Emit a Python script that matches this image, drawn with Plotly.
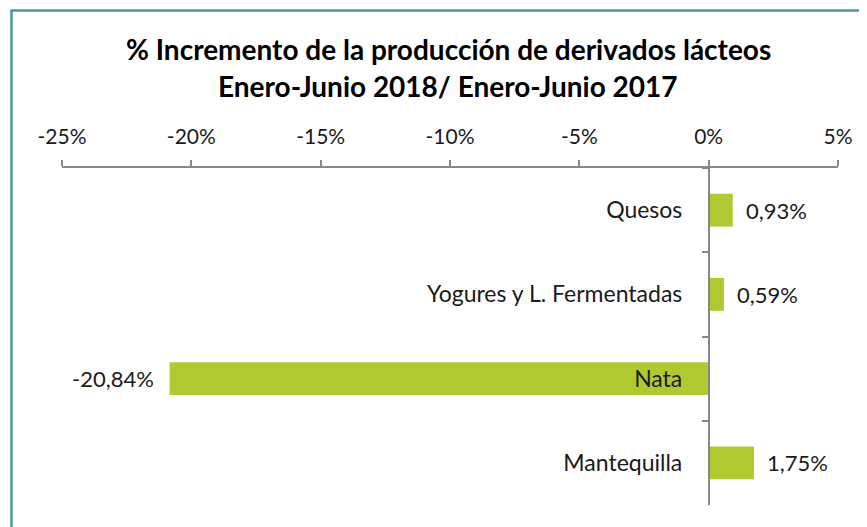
import plotly.graph_objects as go

categories = ["Quesos", "Yogures y L. Fermentadas", "Nata", "Mantequilla"]
values = [0.93, 0.59, -20.84, 1.75]
tick_values = [-25, -20, -15, -10, -5, 0, 5]
tick_labels = ["-25%", "-20%", "-15%", "-10%", "-5%", "0%", "5%"]
title_lines = ["% Incremento de la producción de derivados lácteos",
               "Enero-Junio 2018/ Enero-Junio 2017"]

FONT = "Lato"
BAR = "#B0C930"
AX = "#878787"
TXT = "#1A1A1A"

# page body has an 8px margin: figure coords = window coords - 8
OFF = 8
L, R, T, B = 62 - OFF, 867 - (838 - OFF), 168 - OFF, 527 - (505 - OFF)
PLOT_TOP, PLOT_BOTTOM = T, 527 - B
PH = PLOT_BOTTOM - PLOT_TOP
PW = 867 - L - R


def py(win_y):
    return (PLOT_BOTTOM - (win_y - OFF)) / PH


def px(win_x):
    return ((win_x - OFF) - L) / PW


value_labels = [f"{v:.2f}".replace(".", ",") + "%" for v in values]

fig = go.Figure()
fig.add_trace(go.Bar(
    x=values, y=categories, orientation="h",
    marker=dict(color=BAR, line=dict(width=0)),
    hoverinfo="skip", showlegend=False,
))

for c, v, lab in zip(categories, values, value_labels):
    fig.add_annotation(
        x=v, y=c, xref="x", yref="y", text=lab, showarrow=False,
        xanchor="left" if v >= 0 else "right",
        xshift=11 if v >= 0 else -14,
        font=dict(family=FONT, size=22, color=TXT),
    )

for line, wy in zip(title_lines, [49, 86]):
    fig.add_annotation(
        x=px(448), y=py(wy), xref="paper", yref="paper",
        text="<b>" + line + "</b>",
        showarrow=False, xanchor="center", yanchor="middle",
        font=dict(family=FONT, size=28, color="#000000"),
    )

fig.add_shape(type="rect", xref="paper", yref="paper",
              x0=px(11.5), x1=px(880),
              y0=py(540), y1=py(10.5),
              line=dict(color="#4A989B", width=2.5), fillcolor="rgba(0,0,0,0)",
              layer="below")

fig.update_layout(
    width=867, height=527,
    margin=dict(l=L, r=R, t=T, b=B),
    paper_bgcolor="white", plot_bgcolor="white",
    bargap=0.61,
    font=dict(family=FONT, size=21, color=TXT),
    xaxis=dict(
        range=[-25, 5], side="top", tickvals=tick_values, ticktext=tick_labels,
        showgrid=False, zeroline=False, showline=True, linecolor=AX, linewidth=1.5,
        ticks="outside", ticklen=6, tickcolor=AX, tickwidth=1.5,
        tickfont=dict(family=FONT, size=21, color=TXT), ticklabelstandoff=8,
        fixedrange=True,
    ),
    yaxis=dict(
        type="category", categoryorder="array", categoryarray=categories,
        range=[3.5, -0.5], anchor="free", position=25 / 30,
        showgrid=False, zeroline=False, showline=True, linecolor=AX, linewidth=1.5,
        ticks="outside", ticklen=6, tickcolor=AX, tickwidth=1.5, tickson="boundaries",
        tickfont=dict(family=FONT, size=23, color=TXT), ticklabelstandoff=21,
        layer="above traces", fixedrange=True,
    ),
)

fig.write_html("out.html")
